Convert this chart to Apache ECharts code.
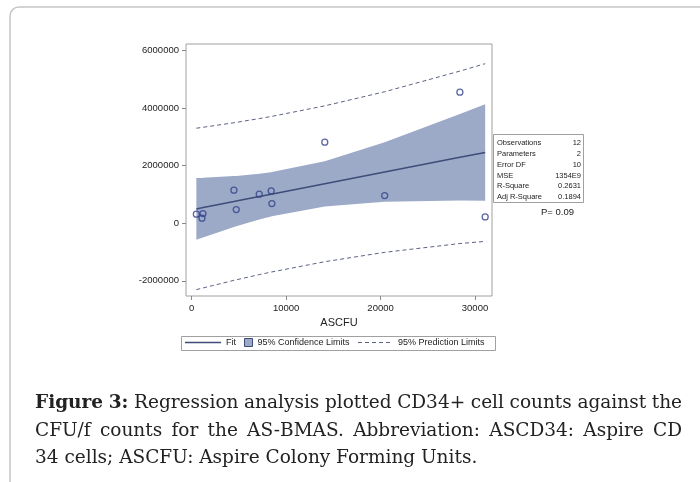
<!DOCTYPE html>
<html><head><meta charset="utf-8">
<script src="https://cdn.jsdelivr.net/npm/echarts@6/dist/echarts.min.js"></script>
<style>html,body{margin:0;padding:0;background:#fff}#c{width:700px;height:482px}</style>
</head><body><div id="c"></div>
<script>
// observations (ASCFU, ASCD34)
const obsX = [495, 1092, 1197, 4475, 4721, 7156, 8421, 8492, 14094, 20437, 28400, 31078];
const obsY = [313000, 174000, 334000, 1148000, 473000, 1009000, 1123000, 682000, 2817000, 960000, 4557000, 219000];
// fit line and limits read at the observation x positions
const bandX   = [495, 1092, 1197, 4475, 4721, 7156, 8421, 8492, 14094, 20437, 28400, 31078];
const fitY    = [497000, 535000, 542000, 753000, 769000, 925000, 1006000, 1011000, 1371000, 1779000, 2291000, 2457000];
const clUpper = [1570000, 1576000, 1578000, 1638000, 1644000, 1722000, 1775000, 1779000, 2158000, 2812000, 3795000, 4136000];
const clLower = [-575000, -506000, -494000, -132000, -106000, 128000, 237000, 243000, 584000, 746000, 787000, 778000];
const plUpper = [3303000, 3329000, 3334000, 3492000, 3505000, 3637000, 3710000, 3714000, 4080000, 4570000, 5288000, 5546000];
const plLower = [-2309000, -2259000, -2250000, -1986000, -1967000, -1787000, -1698000, -1692000, -1338000, -1012000, -706000, -632000];
const xTicks = [0, 10000, 20000, 30000];
const yTicks = [-2000000, 0, 2000000, 4000000, 6000000];
const xName = 'ASCFU';
const legendNames = ['Fit', '95% Confidence Limits', '95% Prediction Limits'];
const statNames = ['Observations', 'Parameters', 'Error DF', 'MSE', 'R-Square', 'Adj R-Square'];
const statValues = ['12', '2', '10', '1354E9', '0.2631', '0.1894'];
const pText = 'P= 0.09';
const captionBold = 'Figure 3:';
const captionLines = [
  'Regression analysis plotted CD34+ cell counts against the',
  'CFU/f counts for the AS-BMAS. Abbreviation: ASCD34: Aspire CD',
  '34 cells; ASCFU: Aspire Colony Forming Units.'
];

const SANS = 'Liberation Sans, Arial, sans-serif';
const SERIF = "'DejaVu Serif', 'Liberation Serif', serif";
const CAP_SIZE = 18.5;
const bandColor = '#9caac8';
const fitColor = '#3e4c78';
const ptColor = '#33418a';
const predColor = '#5c6383';

const zip = (xs, ys) => xs.map((x, i) => [x, ys[i]]);

// legend icon shapes
const solidIcon = 'path://M0,0H36V1.6H0Z';
let dashPath = 'path://';
for (let i = 0; i < 5; i++) dashPath += 'M' + (i * 7) + ',0h4v1h-4z';
dashPath += 'M35,0h0.01v1h-0.01z';

const chart = echarts.init(document.getElementById('c'), null, {renderer: 'canvas'});

const graphics = [
  {type: 'rect', shape: {x: 10, y: 7, width: 730, height: 520, r: 9}, style: {fill: 'none', stroke: '#c6c6c6', lineWidth: 1.5}, z: -10, silent: true},
  {type: 'rect', shape: {x: 181.5, y: 336.5, width: 314, height: 14}, style: {fill: 'none', stroke: '#a0a0a0', lineWidth: 1}, silent: true},
  {type: 'rect', shape: {x: 493.5, y: 134.5, width: 90, height: 68}, style: {fill: '#fff', stroke: '#a0a0a0', lineWidth: 1}, silent: true}
];
const rowY = [143, 154, 165, 175.5, 186, 196.5];
statNames.forEach((n, i) => {
  graphics.push({type: 'text', x: 497, y: rowY[i], style: {text: n, font: '7.5px ' + SANS, fill: '#222', verticalAlign: 'middle', align: 'left'}, silent: true});
  graphics.push({type: 'text', x: 581, y: rowY[i], style: {text: statValues[i], font: '7.5px ' + SANS, fill: '#222', verticalAlign: 'middle', align: 'right'}, silent: true});
});
graphics.push({type: 'text', x: 541, y: 212, style: {text: pText, font: '9.5px ' + SANS, fill: '#222', verticalAlign: 'middle', align: 'left'}, silent: true});

// caption, justified like the original (last line left-aligned)
const meas = document.createElement('canvas').getContext('2d');
const capFont = b => (b ? 'bold ' : '') + CAP_SIZE + 'px ' + SERIF;
const capY = [403, 431, 458];
const capLeft = 35, capRight = 682;
captionLines.forEach((line, li) => {
  const words = line.split(' ').map(t => ({t, b: false}));
  if (li === 0) captionBold.split(' ').reverse().forEach(t => words.unshift({t, b: true}));
  const widths = words.map(w => { meas.font = capFont(w.b); return meas.measureText(w.t).width; });
  const total = widths.reduce((a, c) => a + c, 0);
  meas.font = capFont(false);
  const space = meas.measureText(' ').width;
  const gap = li < captionLines.length - 1 ? (capRight - capLeft - total) / (words.length - 1) : space;
  let x = capLeft;
  words.forEach((w, i) => {
    graphics.push({type: 'text', x: x, y: capY[li], style: {text: w.t, font: capFont(w.b), fill: '#222', verticalAlign: 'middle', align: 'left'}, silent: true});
    x += widths[i] + gap;
  });
});

const legendText = {fontFamily: SANS, fontSize: 9, color: '#222'};

chart.setOption({
  animation: false,
  backgroundColor: '#fff',
  grid: {left: 186, right: 208, top: 44, bottom: 186, show: true, borderColor: '#a0a0a0', borderWidth: 1, backgroundColor: 'transparent', containLabel: false, outerBoundsMode: 'none'},
  xAxis: {
    type: 'value', min: -600, max: 31800,
    name: xName, nameLocation: 'middle', nameGap: 21,
    nameTextStyle: {fontFamily: SANS, fontSize: 11, color: '#222'},
    axisLine: {show: false, onZero: false},
    axisTick: {show: true, length: 4, lineStyle: {color: '#888'}, customValues: xTicks},
    axisLabel: {customValues: xTicks, margin: 7, fontFamily: SANS, fontSize: 9.5, color: '#222', formatter: v => String(v)},
    splitLine: {show: false}
  },
  yAxis: {
    type: 'value', min: -2530000, max: 6230000,
    axisLine: {show: false, onZero: false},
    axisTick: {show: true, length: 4, lineStyle: {color: '#888'}, customValues: yTicks},
    axisLabel: {customValues: yTicks, margin: 7, fontFamily: SANS, fontSize: 9.5, color: '#222', formatter: v => String(v)},
    splitLine: {show: false}
  },
  legend: [
    {data: [{name: legendNames[0], icon: solidIcon, itemStyle: {color: fitColor, borderWidth: 0}}], left: 185, top: 338, padding: 0, itemWidth: 36, itemHeight: 10, selectedMode: false, textStyle: legendText},
    {data: [{name: legendNames[1], icon: 'rect', itemStyle: {color: bandColor, borderColor: fitColor, borderWidth: 1}}], left: 244, top: 338, padding: 0, itemWidth: 8, itemHeight: 8, selectedMode: false, textStyle: legendText},
    {data: [{name: legendNames[2], icon: dashPath, itemStyle: {color: predColor, borderWidth: 0}}], left: 358, top: 338, padding: 0, itemWidth: 35, itemHeight: 10, selectedMode: false, textStyle: legendText}
  ],
  graphic: graphics,
  series: [
    {
      name: legendNames[1], type: 'custom', silent: true, z: 1,
      itemStyle: {color: bandColor},
      data: bandX.map((x, i) => [x, clLower[i], clUpper[i]]),
      encode: {x: 0, y: [1, 2]},
      renderItem: function (params, api) {
        if (params.dataIndex !== 0) return null;
        const pts = [];
        for (let i = 0; i < bandX.length; i++) pts.push(api.coord([bandX[i], clUpper[i]]));
        for (let i = bandX.length - 1; i >= 0; i--) pts.push(api.coord([bandX[i], clLower[i]]));
        return {type: 'polygon', shape: {points: pts}, style: {fill: bandColor}};
      }
    },
    {name: legendNames[2], type: 'line', data: zip(bandX, plUpper), symbol: 'none', z: 2, silent: true, lineStyle: {color: predColor, width: 1, type: [4, 3]}, itemStyle: {color: predColor}},
    {name: legendNames[2], type: 'line', data: zip(bandX, plLower), symbol: 'none', z: 2, silent: true, lineStyle: {color: predColor, width: 1, type: [4, 3]}, itemStyle: {color: predColor}},
    {name: legendNames[0], type: 'line', data: zip(bandX, fitY), symbol: 'none', z: 3, silent: true, lineStyle: {color: fitColor, width: 1.5}, itemStyle: {color: fitColor}},
    {name: 'ASCD34', type: 'scatter', data: zip(obsX, obsY), symbol: 'circle', symbolSize: 6, z: 4,
      itemStyle: {color: 'rgba(255,255,255,0)', borderColor: ptColor, borderWidth: 1.3}}
  ]
});
</script>
</body></html>
